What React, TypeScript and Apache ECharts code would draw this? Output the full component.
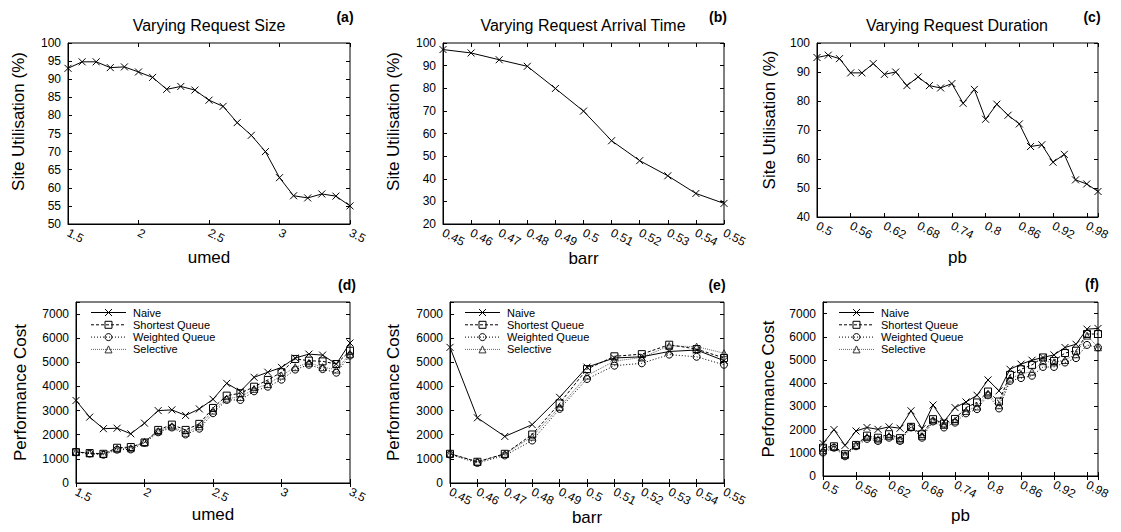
import React, { useEffect, useRef } from 'react';
import * as echarts from 'echarts';

const FONT = '"Liberation Sans", Arial, Helvetica, sans-serif';

// ---------- data ----------
const umed = [1.5, 1.6, 1.7, 1.8, 1.9, 2.0, 2.1, 2.2, 2.3, 2.4, 2.5, 2.6, 2.7, 2.8, 2.9, 3.0, 3.1, 3.2, 3.3, 3.4, 3.5];
const barr = [0.45, 0.46, 0.47, 0.48, 0.49, 0.5, 0.51, 0.52, 0.53, 0.54, 0.55];
const pb = [0.5, 0.52, 0.54, 0.56, 0.58, 0.6, 0.62, 0.64, 0.66, 0.68, 0.7, 0.72, 0.74, 0.76, 0.78, 0.8, 0.82, 0.84, 0.86, 0.88, 0.9, 0.92, 0.94, 0.96, 0.98, 1.0];

const utilSize = [93, 94.8, 94.8, 93.2, 93.4, 92, 90.5, 87.2, 88, 87, 84.2, 82.5, 78, 74.5, 70, 62.8, 57.8, 57.2, 58.3, 57.7, 55];
const utilArrival = [97.1, 95.6, 92.6, 89.7, 79.9, 69.9, 56.8, 48, 41.3, 33.5, 29.1];
const utilDuration = [95, 95.8, 94.6, 89.7, 89.7, 92.9, 89.2, 90, 85.3, 88.3, 85.3, 84.5, 86, 79.2, 84, 73.7, 78.9, 75.1, 72.1, 64.3, 64.9, 58.9, 61.6, 52.8, 51.4, 48.8];

const sizeNaive = [3420, 2730, 2250, 2270, 2040, 2480, 3000, 3030, 2800, 3070, 3470, 4130, 3800, 4380, 4590, 4790, 5180, 5340, 5300, 4930, 5800];
const sizeShortest = [1280, 1240, 1210, 1460, 1490, 1680, 2200, 2420, 2200, 2450, 3110, 3620, 3720, 3990, 4270, 4590, 5140, 5070, 5040, 4930, 5480];
const sizeWeighted = [1280, 1220, 1170, 1380, 1390, 1660, 2100, 2300, 2010, 2250, 2890, 3440, 3440, 3800, 3990, 4280, 4700, 4900, 4720, 4570, 5280];
const sizeSelective = [1300, 1230, 1200, 1420, 1440, 1700, 2150, 2350, 2080, 2350, 3000, 3500, 3560, 3900, 4100, 4450, 4800, 4980, 4800, 4700, 5350];

const arrNaive = [5620, 2700, 1930, 2420, 3550, 4800, 5180, 5230, 5450, 5510, 5070];
const arrShortest = [1210, 880, 1210, 2010, 3300, 4720, 5250, 5340, 5730, 5550, 5180];
const arrWeighted = [1180, 830, 1140, 1760, 3070, 4310, 4860, 4960, 5320, 5230, 4900];
const arrSelective = [1220, 880, 1200, 1920, 3150, 4450, 5050, 5200, 5680, 5650, 5380];

const durNaive = [1400, 2000, 1320, 1940, 2090, 2010, 2120, 2060, 2810, 2040, 3060, 2350, 2950, 3190, 3480, 4140, 3670, 4600, 4820, 4990, 5110, 5220, 5540, 5680, 6330, 6360];
const durShortest = [1220, 1280, 940, 1340, 1740, 1650, 1800, 1630, 2120, 1800, 2450, 2260, 2460, 2950, 3170, 3640, 3210, 4360, 4600, 4790, 5110, 4960, 5300, 5400, 6120, 6120];
const durWeighted = [1010, 1220, 850, 1280, 1600, 1510, 1650, 1510, 2090, 1650, 2350, 2090, 2300, 2700, 2880, 3480, 2910, 4100, 4220, 4320, 4700, 4700, 4890, 5080, 5650, 5540];
const durSelective = [1100, 1250, 900, 1320, 1680, 1580, 1720, 1570, 2120, 1720, 2400, 2200, 2380, 2800, 3000, 3550, 3050, 4200, 4400, 4500, 4950, 4900, 5000, 5250, 6050, 5550];

const strategyNames = ['Naive', 'Shortest Queue', 'Weighted Queue', 'Selective'];

// ---------- layout ----------
type Panel = {
  grid: { left: number; top: number; width: number; height: number };
  xs: number[];
  ys: number[][];
  names: string[];
  xMin: number; xMax: number; xInt: number; xName: string; xGap: number;
  yMin: number; yMax: number; yInt: number; yName: string; yGap: number; yShift: number;
  title?: string; titleX?: number;
  tag: string; tagX: number; tagY: number;
  legendLeft?: number;
};

const panels: Panel[] = [
  {
    grid: { left: 68, top: 43, width: 282, height: 181 }, xs: umed, ys: [utilSize], names: ['Site Utilisation'],
    xMin: 1.5, xMax: 3.5, xInt: 0.5, xName: 'umed', xGap: 25,
    yMin: 50, yMax: 100, yInt: 5, yName: 'Site Utilisation (%)', yGap: 41, yShift: 24,
    title: 'Varying Request Size', titleX: 209, tag: '(a)', tagX: 345, tagY: 17,
  },
  {
    grid: { left: 443, top: 43, width: 281, height: 181 }, xs: barr, ys: [utilArrival], names: ['Site Utilisation'],
    xMin: 0.45, xMax: 0.55, xInt: 0.01, xName: 'barr', xGap: 25,
    yMin: 20, yMax: 100, yInt: 10, yName: 'Site Utilisation (%)', yGap: 41, yShift: 24,
    title: 'Varying Request Arrival Time', titleX: 583, tag: '(b)', tagX: 718, tagY: 17,
  },
  {
    grid: { left: 817, top: 43, width: 281, height: 174 }, xs: pb, ys: [utilDuration], names: ['Site Utilisation'],
    xMin: 0.5, xMax: 1.0, xInt: 0.06, xName: 'pb', xGap: 32,
    yMin: 40, yMax: 100, yInt: 10, yName: 'Site Utilisation (%)', yGap: 39, yShift: 20,
    title: 'Varying Request Duration', titleX: 957, tag: '(c)', tagX: 1092, tagY: 17,
  },
  {
    grid: { left: 76, top: 302, width: 274, height: 181 }, xs: umed, ys: [sizeNaive, sizeShortest, sizeWeighted, sizeSelective], names: strategyNames,
    xMin: 1.5, xMax: 3.5, xInt: 0.5, xName: 'umed', xGap: 19,
    yMin: 0, yMax: 7500, yInt: 1000, yName: 'Performance Cost', yGap: 47, yShift: 0,
    tag: '(d)', tagX: 347, tagY: 285, legendLeft: 91,
  },
  {
    grid: { left: 450, top: 302, width: 274, height: 181 }, xs: barr, ys: [arrNaive, arrShortest, arrWeighted, arrSelective], names: strategyNames,
    xMin: 0.45, xMax: 0.55, xInt: 0.01, xName: 'barr', xGap: 20,
    yMin: 0, yMax: 7500, yInt: 1000, yName: 'Performance Cost', yGap: 48, yShift: 0,
    tag: '(e)', tagX: 717, tagY: 285, legendLeft: 465,
  },
  {
    grid: { left: 823, top: 302, width: 275, height: 174 }, xs: pb, ys: [durNaive, durShortest, durWeighted, durSelective], names: strategyNames,
    xMin: 0.5, xMax: 1.0, xInt: 0.06, xName: 'pb', xGap: 31,
    yMin: 0, yMax: 7500, yInt: 1000, yName: 'Performance Cost', yGap: 46, yShift: 0,
    tag: '(f)', tagX: 1092, tagY: 284, legendLeft: 839,
  },
];

const CROSS = 'path://M0,0L10,10M10,0L0,10';

const seriesStyles: Record<string, any> = {
  'Site Utilisation': { symbol: CROSS, kind: 'cross', symbolSize: 7, stroke: '#000', line: '#000', type: 'solid', dash: null },
  Naive: { symbol: CROSS, kind: 'cross', symbolSize: 7, stroke: '#000', line: '#000', type: 'solid', dash: null },
  'Shortest Queue': { symbol: 'rect', kind: 'rect', symbolSize: 7, stroke: '#000', line: '#000', type: [3, 2], dash: [3, 2] },
  'Weighted Queue': { symbol: 'circle', kind: 'circle', symbolSize: 7, stroke: '#000', line: '#000', type: [1, 2], dash: [1, 2] },
  Selective: { symbol: 'triangle', kind: 'triangle', symbolSize: 7, stroke: '#333', line: '#666', type: [1, 1], dash: [1, 1] },
};

function labelFmt(min: number, interval: number) {
  return (v: number) => {
    const k = (v - min) / interval;
    if (Math.abs(k - Math.round(k)) > 1e-6) return '';
    return String(parseFloat(v.toFixed(4)));
  };
}

// legend drawn as graphic (key line + marker + label)
function legendGraphic(left: number, top: number): any {
  const children: any[] = [];
  const rowH = 12.3;
  const lineW = 35;
  strategyNames.forEach((n, i) => {
    const st = seriesStyles[n];
    const cy = top + i * rowH;
    const cx = left + lineW / 2;
    children.push({
      type: 'line', shape: { x1: left, y1: cy, x2: left + lineW, y2: cy },
      style: { stroke: st.line, lineWidth: 1, lineDash: st.dash || undefined },
    });
    const ms = { stroke: st.stroke, lineWidth: 1, fill: 'none' };
    const r = 3.5;
    if (st.kind === 'cross') {
      children.push({ type: 'line', shape: { x1: cx - r, y1: cy - r, x2: cx + r, y2: cy + r }, style: ms });
      children.push({ type: 'line', shape: { x1: cx + r, y1: cy - r, x2: cx - r, y2: cy + r }, style: ms });
    } else if (st.kind === 'rect') {
      children.push({ type: 'rect', shape: { x: cx - r, y: cy - r, width: 2 * r, height: 2 * r }, style: ms });
    } else if (st.kind === 'circle') {
      children.push({ type: 'circle', shape: { cx, cy, r }, style: ms });
    } else {
      children.push({ type: 'polygon', shape: { points: [[cx, cy - r], [cx + r, cy + r], [cx - r, cy + r]] }, style: ms });
    }
    children.push({
      type: 'text', x: left + lineW + 7, y: cy,
      style: { text: n, font: `11px ${FONT}`, fill: '#000', textAlign: 'left', textVerticalAlign: 'middle' },
    });
  });
  return { type: 'group', children };
}

function buildOption() {
  const grid: any[] = [];
  const xAxis: any[] = [];
  const yAxis: any[] = [];
  const series: any[] = [];
  const graphic: any[] = [];

  const tickStyle = { show: true, inside: true, length: 4, lineStyle: { color: '#000', width: 1 } };

  panels.forEach((p, pi) => {
    grid.push({ ...p.grid, show: true, borderColor: '#000', borderWidth: 1, backgroundColor: 'transparent', containLabel: false });

    const xBase = { type: 'value', gridIndex: pi, min: p.xMin, max: p.xMax, interval: p.xInt, splitLine: { show: false } };
    const yBase = { type: 'value', gridIndex: pi, min: p.yMin, max: p.yMax, interval: p.yInt, splitLine: { show: false } };

    xAxis.push({
      ...xBase, position: 'bottom',
      axisLine: { show: true, lineStyle: { color: '#000', width: 1 } },
      axisTick: tickStyle,
      axisLabel: { show: true, rotate: -27, margin: 8, fontSize: 12, fontFamily: FONT, color: '#000', showMinLabel: true, showMaxLabel: true, formatter: labelFmt(p.xMin, p.xInt) },
      name: p.xName, nameLocation: 'middle', nameGap: p.xGap,
      nameTextStyle: { fontSize: 17, fontFamily: FONT, color: '#000' },
    });
    xAxis.push({ ...xBase, position: 'top', axisLine: { show: false }, axisTick: tickStyle, axisLabel: { show: false } });

    yAxis.push({
      ...yBase, position: 'left',
      axisLine: { show: true, lineStyle: { color: '#000', width: 1 } },
      axisTick: tickStyle,
      axisLabel: { show: true, margin: 7, fontSize: 12, fontFamily: FONT, color: '#000', showMinLabel: true, showMaxLabel: true, formatter: labelFmt(p.yMin, p.yInt) },
      name: p.yName, nameLocation: 'middle', nameGap: p.yGap,
      nameTextStyle: { fontSize: 17, fontFamily: FONT, color: '#000', padding: [0, 0, 0, p.yShift] },
    });
    yAxis.push({ ...yBase, position: 'right', axisLine: { show: false }, axisTick: tickStyle, axisLabel: { show: false } });

    p.ys.forEach((vals, si) => {
      const name = p.names[si];
      const st = seriesStyles[name];
      series.push({
        type: 'line', name, xAxisIndex: pi * 2, yAxisIndex: pi * 2,
        data: p.xs.map((x, i) => [x, vals[i]]),
        symbol: st.symbol, symbolSize: st.symbolSize, showSymbol: true, clip: false,
        itemStyle: { color: 'transparent', borderColor: st.stroke, borderWidth: 1 },
        lineStyle: { color: st.line, width: 1, type: st.type },
        emphasis: { disabled: true },
        z: 10 - si,
      });
    });

    if (p.legendLeft !== undefined) {
      graphic.push(legendGraphic(p.legendLeft, 312.5));
    }

    if (p.title) {
      graphic.push({
        type: 'text', x: p.titleX, y: 25,
        style: { text: p.title, font: `16px ${FONT}`, fill: '#000', textAlign: 'center', textVerticalAlign: 'middle' },
      });
    }
    graphic.push({
      type: 'text', x: p.tagX, y: p.tagY,
      style: { text: p.tag, font: `bold 14px ${FONT}`, fill: '#000', textAlign: 'center', textVerticalAlign: 'middle' },
    });
  });

  return { animation: false, backgroundColor: '#fff', grid, xAxis, yAxis, series, graphic };
}

export default function App() {
  const ref = useRef<HTMLDivElement>(null);
  useEffect(() => {
    const chart = echarts.init(ref.current!, null, { renderer: 'svg' });
    chart.setOption(buildOption() as any);
    return () => chart.dispose();
  }, []);
  return <div ref={ref} style={{ position: 'fixed', left: 0, top: 0, width: 1121, height: 532 }} />;
}
